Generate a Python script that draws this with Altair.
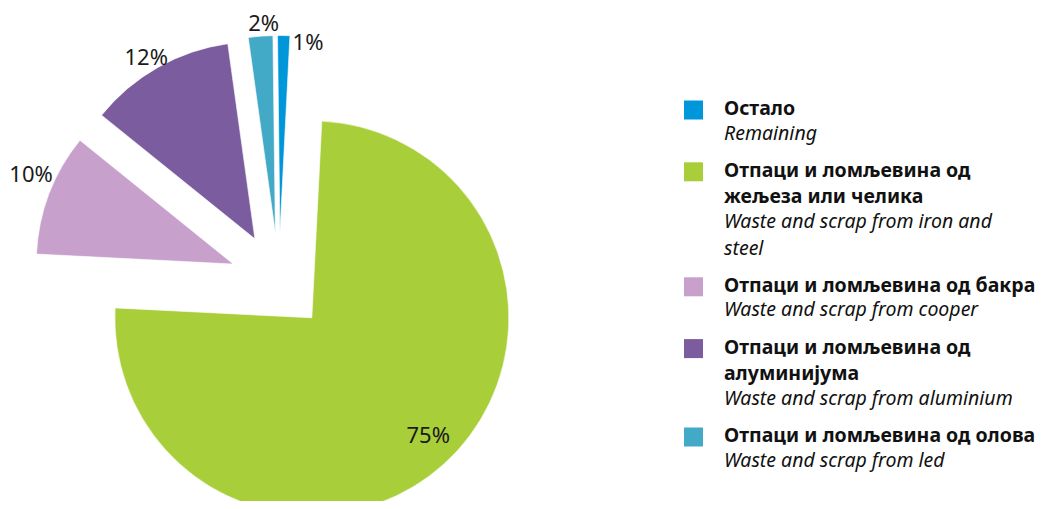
import altair as alt
import pandas as pd

# ---------------- data ----------------
CATEGORIES = ["remaining", "iron", "copper", "aluminium", "lead"]
VALUES = [1, 75, 10, 12, 2]
PCT_LABELS = ["1%", "75%", "10%", "12%", "2%"]
COLORS = ["#0096DA", "#A8CE3A", "#C7A0CB", "#7B5C9E", "#42A9C6"]
NAMES_SR = [
    ["Остало"],
    ["Отпаци и ломљевина од", "жељеза или челика"],
    ["Отпаци и ломљевина од бакра"],
    ["Отпаци и ломљевина од", "алуминијума"],
    ["Отпаци и ломљевина од олова"],
]
NAMES_EN = [
    ["Remaining"],
    ["Waste and scrap from iron and", "steel"],
    ["Waste and scrap from cooper"],
    ["Waste and scrap from aluminium"],
    ["Waste and scrap from led"],
]

# ---------------- layout / style ----------------
W, H = 1048, 493
CX, CY = 271.0, 273.5      # pie centre (before explode)
R = 197                    # pie radius
EXPLODE = 49               # explode distance of every slice
START_DEG = -0.7           # rotation of first slice
LABEL_R = [192, 166, 221, 211, 209]
LABEL_SHIFT_DEG = [7.3, -2.4, 2.9, -1.5, 1.1]
FONT = "Noto Sans"
LEG_FONT_SIZE = 19.5
LEG_X_TEXT = 716
LEG_X_BOX = 685.5
LEG_Y0, LEG_ROW, LEG_GROUP, LEG_ITALIC = 107, 26.6, 8.6, -2

pie_df = pd.DataFrame({
    "order": list(range(len(VALUES))),
    "cat": CATEGORIES,
    "value": VALUES,
    "label": PCT_LABELS,
    "lr": LABEL_R,
    "ls": LABEL_SHIFT_DEG,
})

rows = []
r = 0
for g, cat in enumerate(CATEGORIES):
    first = True
    for t in NAMES_SR[g]:
        rows.append({"cat": cat, "row": r, "group": g, "text": t, "italic": 0, "first": int(first)})
        first = False
        r += 1
    for t in NAMES_EN[g]:
        rows.append({"cat": cat, "row": r, "group": g, "text": t, "italic": 1, "first": 0})
        r += 1
leg_df = pd.DataFrame(rows)

color_scale = alt.Scale(domain=CATEGORIES, range=COLORS)

pie_base = alt.Chart(pie_df).transform_joinaggregate(
    total="sum(value)"
).transform_window(
    cum="sum(value)", sort=[alt.SortField("order", order="ascending")]
).transform_calculate(
    a0=f"(datum.cum - datum.value) / datum.total * 2 * PI + {START_DEG} * PI / 180",
    a1=f"datum.cum / datum.total * 2 * PI + {START_DEG} * PI / 180",
).transform_calculate(
    mid="(datum.a0 + datum.a1) / 2"
).transform_calculate(
    px=f"{CX} + {EXPLODE} * sin(datum.mid)",
    py=f"{CY} - {EXPLODE} * cos(datum.mid)",
).transform_calculate(
    lx="datum.px + datum.lr * sin(datum.mid + datum.ls * PI / 180)",
    ly="datum.py - datum.lr * cos(datum.mid + datum.ls * PI / 180)",
)

arcs = pie_base.mark_arc(radius=R, stroke="white", strokeWidth=0.6).encode(
    x=alt.X("px:Q", scale=None, axis=None),
    y=alt.Y("py:Q", scale=None, axis=None),
    theta=alt.Theta("a0:Q", scale=None),
    theta2="a1:Q",
    color=alt.Color("cat:N", scale=color_scale, legend=None),
)

pct = pie_base.mark_text(
    font=FONT, fontSize=22, align="center", baseline="middle", color="#1a1a1a"
).encode(
    x=alt.X("lx:Q", scale=None, axis=None),
    y=alt.Y("ly:Q", scale=None, axis=None),
    text="label:N",
)

leg_base = alt.Chart(leg_df).transform_calculate(
    ty=f"{LEG_Y0} + datum.row * {LEG_ROW} + datum.group * {LEG_GROUP} + datum.italic * {LEG_ITALIC}"
)

leg_bold = leg_base.transform_filter("datum.italic == 0").mark_text(
    font=FONT, fontSize=LEG_FONT_SIZE, fontWeight="bold", align="left",
    baseline="alphabetic", color="#111111"
).encode(
    x=alt.value(LEG_X_TEXT),
    y=alt.Y("ty:Q", scale=None, axis=None),
    text="text:N",
)

leg_it = leg_base.transform_filter("datum.italic == 1").mark_text(
    font=FONT, fontSize=LEG_FONT_SIZE, fontStyle="italic", align="left",
    baseline="alphabetic", color="#111111"
).encode(
    x=alt.value(LEG_X_TEXT),
    y=alt.Y("ty:Q", scale=None, axis=None),
    text="text:N",
)

leg_box = leg_base.transform_filter("datum.first == 1").transform_calculate(
    by="datum.ty - 5"
).mark_square(size=361, opacity=1, filled=True).encode(
    x=alt.value(LEG_X_BOX),
    y=alt.Y("by:Q", scale=None, axis=None),
    color=alt.Color("cat:N", scale=color_scale, legend=None),
)

chart = alt.layer(arcs, pct, leg_box, leg_bold, leg_it).properties(
    width=W, height=H, padding=0, autosize=alt.AutoSizeParams(type="none")
).configure_view(stroke=None)

chart.save("out.html", embed_options={"renderer": "svg", "actions": False})
